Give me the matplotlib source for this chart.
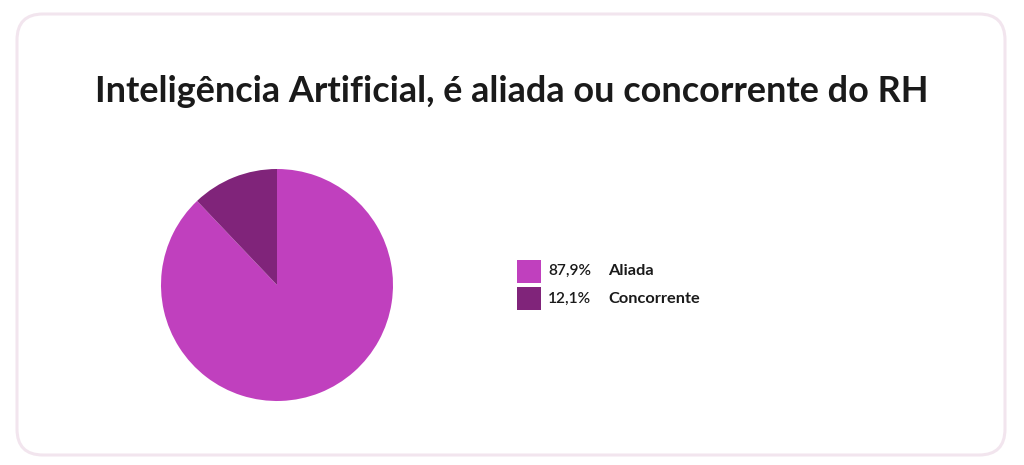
import matplotlib
matplotlib.use('Agg')
import matplotlib.pyplot as plt
from matplotlib.patches import FancyBboxPatch, Rectangle

title = 'Inteligência Artificial, é aliada ou concorrente do RH'
labels = ['Aliada', 'Concorrente']
values = [87.9, 12.1]
pct_labels = ['87,9%', '12,1%']
colors = ['#c040be', '#80247a']

W, H = 1024, 465
fig = plt.figure(figsize=(W / 100, H / 100), dpi=100)
fig.patch.set_facecolor('white')

# background axes in pixel coords (y down)
bg = fig.add_axes([0, 0, 1, 1])
bg.set_xlim(0, W); bg.set_ylim(H, 0); bg.axis('off')
bg.add_patch(FancyBboxPatch((17, 14), 988, 441, boxstyle='round,pad=0,rounding_size=26',
                            fc='white', ec='#f2e5ee', lw=2.2))
bg.text(512, 91, title, ha='center', va='center', fontsize=25.9, fontweight='bold',
        family='Lato', color='#1a1a1a')

# legend
for i, (pl, lab, c) in enumerate(zip(pct_labels, labels, colors)):
    y = 271 + i * 27.5
    bg.add_patch(Rectangle((517, y - 11.5), 24, 23, fc=c, ec='none'))
    bg.text(548, y, pl, ha='left', va='center', fontsize=11.2, family='Lato',
            fontweight='semibold', color='#1a1a1a')
    bg.text(608, y, lab, ha='left', va='center', fontsize=11.8, family='Lato',
            fontweight='bold', color='#1a1a1a')

# pie
cx, cy, r = 277, 285, 116
ax = fig.add_axes([(cx - r) / W, (H - cy - r) / H, 2 * r / W, 2 * r / H])
ax.pie(values, colors=colors, startangle=90, counterclock=False, radius=1,
       wedgeprops=dict(linewidth=0))
ax.set_xlim(-1, 1); ax.set_ylim(-1, 1)
ax.axis('off')

fig.savefig('out.png', dpi=100)
